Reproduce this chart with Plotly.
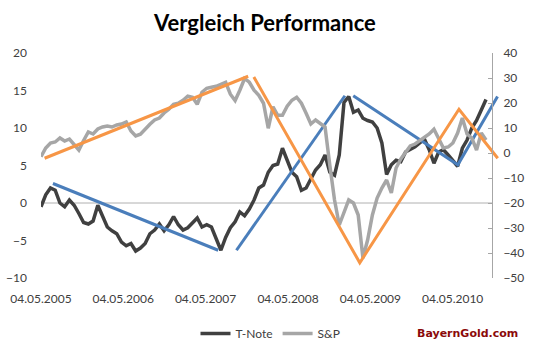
import pandas as pd
import plotly.graph_objects as go

# ---- data ----
start_date = "2005-05-04"
step = "21D"

tnote = [-0.5, 1.1, 2.0, 1.7, 0.0, -0.5, 0.4, -0.3, -1.4, -2.6,
         -2.8, -2.4, -0.3, -1.8, -3.2, -3.7, -4.1, -5.2, -5.7, -5.4,
         -6.4, -6.0, -5.4, -4.1, -3.6, -2.8, -3.7, -2.9, -1.8, -2.9,
         -3.6, -3.3, -2.6, -2.0, -3.2, -2.9, -3.2, -4.9, -6.3, -4.6,
         -3.3, -2.5, -1.2, -1.7, -0.8, 0.4, 2.0, 2.4, 4.1, 5.0,
         5.2, 7.3, 5.7, 4.1, 3.5, 1.7, 2.0, 3.3, 4.4, 5.1,
         6.4, 4.1, 3.7, 6.4, 13.4, 14.2, 12.1, 12.4, 11.3, 11.0,
         10.8, 10.0, 8.0, 3.8, 5.1, 5.7, 5.5, 6.8, 7.1, 7.5,
         8.0, 8.5, 7.1, 5.3, 6.8, 7.1, 6.4, 5.7, 4.9, 7.3,
         8.4, 10.0, 11.0, 12.4, 13.8]

snp = [-1.5, 2.0, 4.0, 4.4, 6.0, 4.8, 5.6, 3.6, 1.2, 5.0,
       8.4, 7.6, 9.6, 10.4, 10.8, 10.4, 11.2, 11.6, 12.4, 8.8,
       6.8, 7.5, 9.6, 11.5, 13.2, 14.0, 16.0, 17.5, 19.5, 19.9,
       21.1, 22.7, 22.3, 19.5, 24.3, 25.9, 26.3, 26.7, 27.5, 28.3,
       23.5, 21.0, 25.1, 29.8, 28.3, 25.1, 23.1, 19.9, 9.9, 18.5,
       15.1, 15.1, 18.7, 21.1, 22.3, 19.9, 15.9, 11.6, 13.2, 12.0,
       10.4, -4.8, -18.8, -28.8, -23.6, -18.8, -20.0, -24.8, -42.0, -34.7,
       -24.8, -18.0, -14.0, -10.8, -16.0, -6.0, -2.4, 0.4, 2.8, 3.6,
       4.8, 6.4, 7.6, 9.5, 5.5, 2.0, 2.4, 4.0, 8.0, 14.0,
       7.6, 6.0, 1.2, 8.0, 5.2]

# hand-drawn trend lines
blue1_x = ["2005-06-26", "2007-06-29"]
blue1_y = [2.6, -6.3]
blue2_x = ["2007-09-18", "2009-01-11"]
blue2_y = [-6.3, 14.3]
blue3_x = ["2009-02-17", "2010-05-27", "2010-11-19"]
blue3_y = [14.3, 5.1, 14.2]
orange1_x = ["2005-05-20", "2007-11-09"]
orange1_y = [-2.1, 30.7]
orange2_x = ["2007-12-04", "2009-03-18", "2010-06-01", "2010-11-20"]
orange2_y = [30.4, -43.9, 17.5, -2.1]

tick_dates = ["2005-05-04", "2006-05-04", "2007-05-04", "2008-05-04", "2009-05-04", "2010-05-04"]
tick_text = ["04.05.2005", "04.05.2006", "04.05.2007", "04.05.2008", "04.05.2009", "04.05.2010"]
left_ticks = [-10, -5, 0, 5, 10, 15, 20]
right_ticks = [-50, -40, -30, -20, -10, 0, 10, 20, 30, 40]

dates = pd.date_range(start_date, periods=len(tnote), freq=step)

BLUE = "#4A7EBB"
ORANGE = "#F79646"
FONT = "Lato"
TXT = "#404040"

fig = go.Figure()
fig.add_trace(go.Scatter(x=dates, y=tnote, mode="lines", name="T-Note",
                         line=dict(color="#404040", width=3.5), yaxis="y"))
fig.add_trace(go.Scatter(x=dates, y=snp, mode="lines", name="S&P",
                         line=dict(color="#A6A6A6", width=3.5), yaxis="y2"))
for xs, ys in [(blue1_x, blue1_y), (blue2_x, blue2_y), (blue3_x, blue3_y)]:
    fig.add_trace(go.Scatter(x=xs, y=ys, mode="lines", showlegend=False,
                             line=dict(color=BLUE, width=3), yaxis="y"))
for xs, ys in [(orange1_x, orange1_y), (orange2_x, orange2_y)]:
    fig.add_trace(go.Scatter(x=xs, y=ys, mode="lines", showlegend=False,
                             line=dict(color=ORANGE, width=3), yaxis="y2"))

axis_pos = 0.9826

fig.update_layout(
    width=533, height=352,
    margin=dict(l=41, r=33, t=53, b=74, autoexpand=False),
    paper_bgcolor="white", plot_bgcolor="white",
    font=dict(family=FONT, size=12, color=TXT),
    title=dict(text="<b>Vergleich Performance</b>", x=0.497, xref="container",
               y=0.935, yref="container", xanchor="center", yanchor="middle",
               font=dict(family=FONT, size=22, color="black")),
    xaxis=dict(type="date", range=["2005-05-04", "2010-11-30"],
               tickvals=tick_dates, ticktext=tick_text, showgrid=False,
               zeroline=False, showline=False, ticks="", ticklabelstandoff=12,
               tickfont=dict(family=FONT, size=12, color=TXT)),
    yaxis=dict(range=[-10, 20], tickvals=left_ticks, showgrid=False,
               zeroline=False, showline=False, ticks="", ticklabelstandoff=13,
               tickfont=dict(family=FONT, size=12, color=TXT)),
    yaxis2=dict(range=[-50, 40], tickvals=right_ticks, overlaying="y",
                side="right", anchor="free", position=axis_pos,
                showgrid=False, zeroline=False, showline=True,
                linecolor="#A6A6A6", linewidth=1, ticks="inside", ticklen=4,
                tickcolor="#A6A6A6", ticklabelstandoff=8,
                tickfont=dict(family=FONT, size=12, color=TXT)),
    legend=dict(orientation="h", x=0.5, xanchor="center", y=-0.247,
                yanchor="middle", font=dict(family=FONT, size=12, color=TXT),
                bgcolor="rgba(0,0,0,0)"),
    shapes=[dict(type="line", xref="paper", x0=0, x1=axis_pos, yref="y",
                 y0=0, y1=0, line=dict(color="#B0B0B0", width=1), layer="below")],
    annotations=[dict(text="<b>BayernGold.com</b>", xref="paper", yref="paper",
                      x=0.929, y=-0.247, xanchor="center", yanchor="middle",
                      showarrow=False,
                      font=dict(family="DejaVu Sans", size=11, color="#8B0A0A"))],
)

fig.write_html("out.html")
